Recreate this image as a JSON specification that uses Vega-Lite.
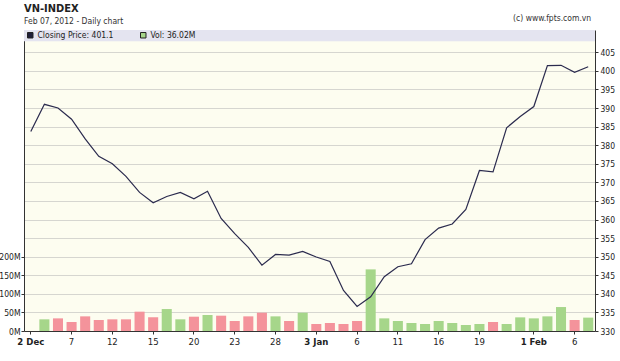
{
  "$schema": "https://vega.github.io/schema/vega-lite/v6.json",
  "width": 571,
  "height": 301,
  "autosize": {"type": "none"},
  "padding": {"left": 24, "top": 30, "right": 25, "bottom": 30},
  "background": "#ffffff",
  "title": {
    "text": "VN-INDEX",
    "subtitle": "Feb 07, 2012 - Daily chart",
    "anchor": "start",
    "frame": "group",
    "font": "DejaVu Sans Condensed, Liberation Sans Narrow, Liberation Sans, sans-serif",
    "fontSize": 11,
    "fontWeight": "bold",
    "color": "#222222",
    "subtitleFont": "DejaVu Sans Condensed, Liberation Sans Narrow, Liberation Sans, sans-serif",
    "subtitleFontSize": 8.5,
    "subtitleColor": "#333333",
    "subtitlePadding": 3,
    "offset": -12
  },
  "data": {
    "values": [
      {"date": "2011-12-02", "price": 383.7, "vol": null, "dir": null},
      {"date": "2011-12-05", "price": 391.0, "vol": 31.4, "dir": "up"},
      {"date": "2011-12-06", "price": 390.0, "vol": 34.0, "dir": "down"},
      {"date": "2011-12-07", "price": 387.0, "vol": 24.2, "dir": "down"},
      {"date": "2011-12-08", "price": 381.7, "vol": 39.4, "dir": "down"},
      {"date": "2011-12-09", "price": 377.0, "vol": 29.6, "dir": "down"},
      {"date": "2011-12-12", "price": 375.0, "vol": 31.4, "dir": "down"},
      {"date": "2011-12-13", "price": 371.6, "vol": 31.4, "dir": "down"},
      {"date": "2011-12-14", "price": 367.3, "vol": 52.0, "dir": "down"},
      {"date": "2011-12-15", "price": 364.5, "vol": 36.7, "dir": "down"},
      {"date": "2011-12-16", "price": 366.2, "vol": 59.1, "dir": "up"},
      {"date": "2011-12-19", "price": 367.3, "vol": 31.4, "dir": "up"},
      {"date": "2011-12-20", "price": 365.6, "vol": 38.5, "dir": "down"},
      {"date": "2011-12-21", "price": 367.6, "vol": 43.0, "dir": "up"},
      {"date": "2011-12-22", "price": 360.3, "vol": 41.2, "dir": "down"},
      {"date": "2011-12-23", "price": 356.2, "vol": 26.9, "dir": "down"},
      {"date": "2011-12-26", "price": 352.5, "vol": 39.4, "dir": "down"},
      {"date": "2011-12-27", "price": 347.7, "vol": 49.3, "dir": "down"},
      {"date": "2011-12-28", "price": 350.6, "vol": 39.4, "dir": "up"},
      {"date": "2011-12-29", "price": 350.4, "vol": 26.9, "dir": "down"},
      {"date": "2011-12-30", "price": 351.4, "vol": 49.3, "dir": "up"},
      {"date": "2012-01-03", "price": 349.9, "vol": 18.8, "dir": "down"},
      {"date": "2012-01-04", "price": 348.7, "vol": 21.5, "dir": "down"},
      {"date": "2012-01-05", "price": 340.9, "vol": 18.8, "dir": "down"},
      {"date": "2012-01-06", "price": 336.6, "vol": 26.9, "dir": "down"},
      {"date": "2012-01-09", "price": 339.2, "vol": 165.8, "dir": "up"},
      {"date": "2012-01-10", "price": 344.6, "vol": 34.0, "dir": "up"},
      {"date": "2012-01-11", "price": 347.3, "vol": 26.9, "dir": "up"},
      {"date": "2012-01-12", "price": 348.1, "vol": 21.5, "dir": "up"},
      {"date": "2012-01-13", "price": 354.6, "vol": 18.8, "dir": "up"},
      {"date": "2012-01-16", "price": 357.7, "vol": 26.9, "dir": "up"},
      {"date": "2012-01-17", "price": 358.8, "vol": 21.5, "dir": "up"},
      {"date": "2012-01-18", "price": 362.7, "vol": 16.1, "dir": "up"},
      {"date": "2012-01-19", "price": 373.2, "vol": 18.8, "dir": "up"},
      {"date": "2012-01-20", "price": 372.8, "vol": 24.2, "dir": "down"},
      {"date": "2012-01-30", "price": 384.7, "vol": 18.8, "dir": "up"},
      {"date": "2012-01-31", "price": 387.7, "vol": 36.7, "dir": "up"},
      {"date": "2012-02-01", "price": 390.4, "vol": 34.0, "dir": "up"},
      {"date": "2012-02-02", "price": 401.4, "vol": 39.4, "dir": "up"},
      {"date": "2012-02-03", "price": 401.5, "vol": 64.5, "dir": "up"},
      {"date": "2012-02-06", "price": 399.6, "vol": 29.6, "dir": "down"},
      {"date": "2012-02-07", "price": 401.1, "vol": 36.0, "dir": "up"}
    ]
  },
  "encoding": {
    "x": {
      "field": "date",
      "type": "ordinal",
      "sort": "ascending",
      "scale": {"type": "band", "paddingInner": 0.26, "paddingOuter": 0.13},
      "axis": {
        "title": null,
        "values": ["2011-12-02", "2011-12-07", "2011-12-12", "2011-12-15", "2011-12-20", "2011-12-23", "2011-12-28", "2012-01-03", "2012-01-06", "2012-01-11", "2012-01-16", "2012-01-19", "2012-02-01", "2012-02-06"],
        "labelExpr": "utcFormat(toDate(datum.value), indexof(['2011-12-02','2012-01-03','2012-02-01'], datum.value) >= 0 ? '%-d %b' : '%-d')",
        "labelFontWeight": {"condition": {"test": "indexof(['2011-12-02','2012-01-03','2012-02-01'], datum.value) >= 0", "value": "bold"}, "value": "normal"},
        "labelAngle": 0,
        "labelFontSize": 9.5,
        "labelPadding": 2,
        "tickSize": 3,
        "grid": false,
        "domainColor": "#333333",
        "tickColor": "#333333"
      }
    }
  },
  "layer": [
    {
      "mark": {"type": "bar"},
      "encoding": {
        "y": {
          "field": "vol",
          "type": "quantitative",
          "scale": {"domain": [0, 810], "nice": false, "zero": true},
          "axis": {
            "orient": "left",
            "title": null,
            "values": [0, 50, 100, 150, 200],
            "labelExpr": "datum.value + 'M'",
            "grid": false,
            "tickSize": 3,
            "labelPadding": 1,
            "labelFontSize": 8.5,
            "domainColor": "#333333",
            "tickColor": "#333333"
          }
        },
        "fill": {
          "field": "dir",
          "type": "nominal",
          "scale": {"domain": ["up", "down"], "range": ["#a6d68a", "#f4939b"]},
          "legend": null
        }
      }
    },
    {
      "mark": {"type": "line", "color": "#2b2b4e", "strokeWidth": 1.2},
      "encoding": {
        "y": {
          "field": "price",
          "type": "quantitative",
          "scale": {"domain": [330, 411], "nice": false, "zero": false},
          "axis": {
            "orient": "right",
            "title": null,
            "values": [330, 335, 340, 345, 350, 355, 360, 365, 370, 375, 380, 385, 390, 395, 400, 405],
            "grid": true,
            "gridColor": "#d6d6d0",
            "tickSize": 3,
            "labelPadding": 2,
            "labelFontSize": 8.5,
            "domainColor": "#333333",
            "tickColor": "#333333"
          }
        }
      }
    },
    {
      "mark": {"type": "point", "shape": "square", "filled": true, "opacity": 0},
      "encoding": {
        "y": {"field": "price", "type": "quantitative", "scale": {"domain": [330, 411], "nice": false, "zero": false}, "axis": null},
        "color": {
          "datum": "Closing Price: 401.1",
          "type": "nominal",
          "scale": {"domain": ["Closing Price: 401.1", "Vol: 36.02M"], "range": ["#1f1f3a", "#a6d68a"]},
          "legend": {
            "orient": "none",
            "legendX": 2,
            "legendY": 1,
            "direction": "horizontal",
            "title": null,
            "symbolType": "square",
            "symbolSize": 30,
            "symbolOpacity": 1,
            "symbolStrokeColor": "#222222",
            "symbolStrokeWidth": 1,
            "labelFontSize": 8.5,
            "labelColor": "#222222",
            "labelOffset": 3,
            "columnPadding": 24,
            "symbolOffset": 0
          }
        }
      }
    },
    {
      "data": {"values": [{"band": "legend"}]},
      "mark": {"type": "rect", "color": "#e4e4f0"},
      "encoding": {
        "x": {"value": 0},
        "x2": {"value": "width"},
        "y": {"datum": 408, "type": "quantitative", "scale": {"domain": [330, 411], "nice": false, "zero": false}, "axis": null},
        "y2": {"datum": 411}
      }
    },
    {
      "data": {"values": [{"credit": "(c) www.fpts.com.vn"}]},
      "mark": {"type": "text", "align": "right", "baseline": "bottom", "fontSize": 8.5, "color": "#333333", "dx": -2},
      "encoding": {
        "x": {"datum": "2012-02-07", "bandPosition": 1},
        "y": {"datum": 413, "type": "quantitative", "scale": {"domain": [330, 411], "nice": false, "zero": false}, "axis": null},
        "text": {"field": "credit"}
      }
    }
  ],
  "resolve": {"scale": {"y": "independent"}},
  "config": {
    "font": "DejaVu Sans Condensed, Liberation Sans Narrow, Liberation Sans, sans-serif",
    "view": {"fill": "#fdfdf0", "stroke": null},
    "axis": {"labelFont": "DejaVu Sans Condensed, Liberation Sans Narrow, Liberation Sans, sans-serif", "labelColor": "#222222"},
    "legend": {"labelFont": "DejaVu Sans Condensed, Liberation Sans Narrow, Liberation Sans, sans-serif"},
    "text": {"font": "DejaVu Sans Condensed, Liberation Sans Narrow, Liberation Sans, sans-serif"}
  }
}
